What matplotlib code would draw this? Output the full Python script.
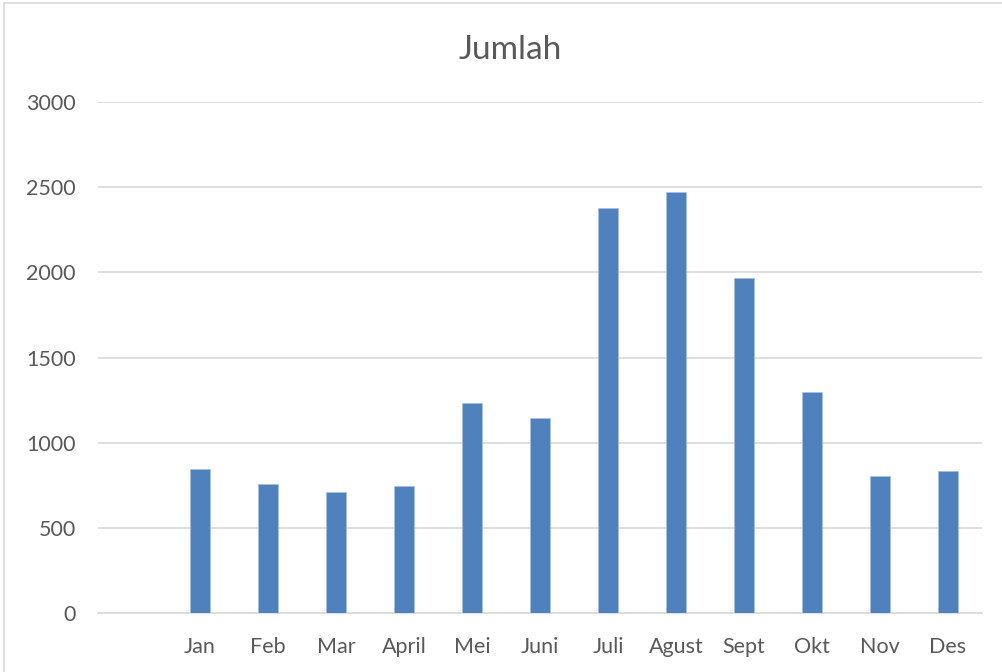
import matplotlib
matplotlib.use("Agg")
import matplotlib.pyplot as plt
from matplotlib.patches import Rectangle

categories = ["", "Jan", "Feb", "Mar", "April", "Mei", "Juni", "Juli", "Agust", "Sept", "Okt", "Nov", "Des"]
values = [0, 847, 759, 712, 747, 1235, 1147, 2376, 2471, 1965, 1300, 806, 835]
yticks = [0, 500, 1000, 1500, 2000, 2500, 3000]
title = "Jumlah"

plt.rcParams['font.family'] = ['Lato', 'DejaVu Sans']
fig = plt.figure(figsize=(10.03, 6.72), dpi=100)
ax = fig.add_axes([98/1003, 1-613/672, (982-98)/1003, (613-102)/672])

x = list(range(len(categories)))
ax.bar(x, values, width=0.3, color="#4f81bd", edgecolor="#a7bfe0", linewidth=0.6, zorder=3)
ax.set_xlim(-0.5, len(categories) - 0.5)
ax.set_ylim(0, 3000)
ax.set_yticks(yticks)
ax.set_yticklabels([str(v) for v in yticks])
ax.set_xticks(x)
ax.set_xticklabels(categories)
ax.grid(axis='y', color="#d9d9d9", linewidth=1.2, zorder=0)
for s in ["top", "right", "left"]:
    ax.spines[s].set_visible(False)
ax.spines["bottom"].set_color("#d9d9d9")
ax.spines["bottom"].set_linewidth(1.2)
ax.tick_params(axis='both', length=0, labelsize=15.5, colors="#595959")
ax.tick_params(axis='y', pad=16)
ax.tick_params(axis='x', pad=17.5)

fig.text(510/1003, 1-50/672, title, ha="center", va="center", fontsize=24, color="#595959")
fig.patches.append(Rectangle((4/1003, -0.05), 1.1, 1 - 3/672 + 0.05, transform=fig.transFigure,
                             fill=False, edgecolor="#d9d9d9", linewidth=1.2))

fig.savefig("out.png", dpi=100)
